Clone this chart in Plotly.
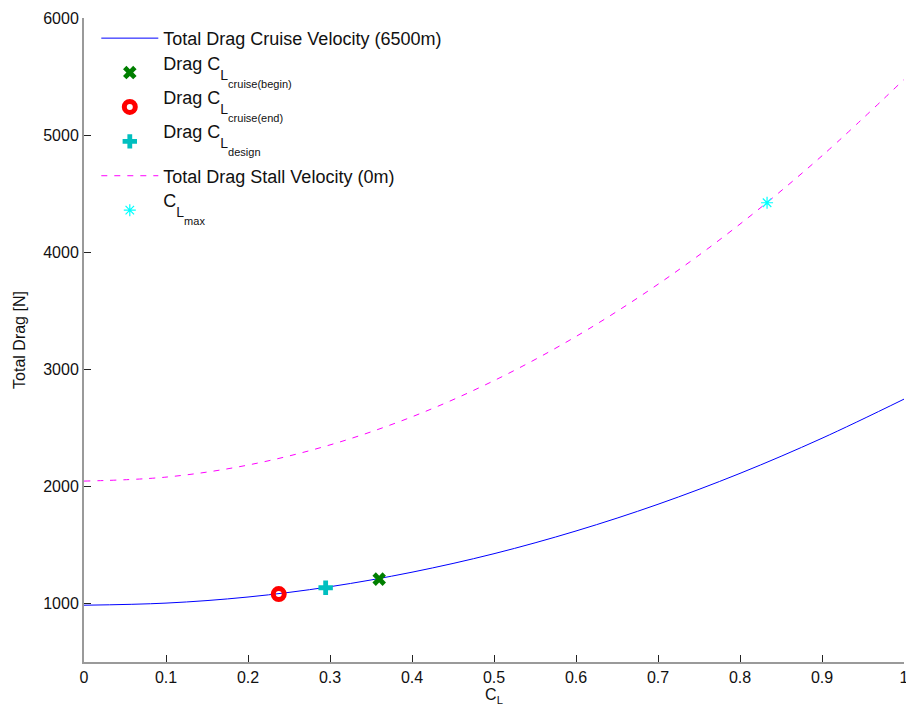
import plotly.graph_objects as go

# Lift coefficient samples and total drag [N]
cl = [0.0, 0.1, 0.2, 0.3, 0.4, 0.5, 0.6, 0.7, 0.8, 0.9, 1.0]
drag_cruise = [985, 1003, 1055, 1143, 1267, 1425, 1619, 1847, 2111, 2411, 2745]
drag_stall = [2045, 2079, 2182, 2354, 2594, 2903, 3280, 3726, 4240, 4823, 5475]

# Operating points
cl_cruise_begin, d_cruise_begin = 0.360, 1208
cl_cruise_end, d_cruise_end = 0.2375, 1080
cl_design, d_design = 0.2947, 1134
cl_max, d_cl_max = 0.833, 4422

x_ticks = [0, 0.1, 0.2, 0.3, 0.4, 0.5, 0.6, 0.7, 0.8, 0.9, 1]
y_ticks = [1000, 2000, 3000, 4000, 5000, 6000]

font_family = "Liberation Sans, Arial, sans-serif"


def sub_label(main, first, second):
    """Legend text with a subscript and a second, lower subscript level."""
    return (f"<span style='baseline-shift:10px'>{main}</span>"
            f"<span style='font-size:14px'>{first}</span>"
            f"<span style='font-size:11px;baseline-shift:-8px'>{second}</span>")


fig = go.Figure()
fig.add_trace(go.Scatter(
    x=cl, y=drag_cruise, mode="lines", line=dict(color="#0000ff", width=1, shape="spline"),
    name="Total Drag Cruise Velocity (6500m)", legendgroup="a"))
fig.add_trace(go.Scatter(
    x=[cl_cruise_begin], y=[d_cruise_begin], mode="markers",
    marker=dict(symbol="x", size=12, color="#007f00", line=dict(width=0)),
    name=sub_label("Drag C", "L", "cruise(begin)"), legendgroup="b"))
fig.add_trace(go.Scatter(
    x=[cl_cruise_end], y=[d_cruise_end], mode="markers",
    marker=dict(symbol="circle-open", size=11, color="#ff0000", line=dict(width=5, color="#ff0000")),
    name=sub_label("Drag C", "L", "cruise(end)"), legendgroup="c"))
fig.add_trace(go.Scatter(
    x=[cl_design], y=[d_design], mode="markers",
    marker=dict(symbol="cross", size=12, color="#00bfbf", line=dict(width=0)),
    name=sub_label("Drag C", "L", "design"), legendgroup="d"))
fig.add_trace(go.Scatter(
    x=cl, y=drag_stall, mode="lines",
    line=dict(color="#ff00ff", width=1, dash="6px,7px", shape="spline"),
    name="Total Drag Stall Velocity (0m)", legendgroup="e"))
fig.add_trace(go.Scatter(
    x=[cl_max], y=[d_cl_max], mode="markers",
    marker=dict(symbol="asterisk-open", size=10, color="#00ffff", line=dict(width=1.2, color="#00ffff")),
    name=sub_label("C", "L", "max"), legendgroup="f"))

axis_common = dict(
    showline=True, linecolor="#9a9a9a", linewidth=2, mirror=False,
    ticks="inside", ticklen=7, tickcolor="#222222", tickwidth=1,
    showgrid=False, zeroline=False, automargin=False,
    tickfont=dict(family=font_family, size=16, color="#111111"),
)

fig.update_layout(
    width=906, height=717,
    margin=dict(l=84, r=2, t=18, b=55),
    paper_bgcolor="white", plot_bgcolor="white",
    font=dict(family=font_family, size=16, color="#111111"),
    xaxis=dict(range=[0, 1], tickvals=x_ticks, ticktext=[f"{v:g}" for v in x_ticks],
               ticklabeloverflow="allow",
               title=dict(text="C<sub>L</sub>", font=dict(size=16), standoff=4), **axis_common),
    yaxis=dict(range=[500, 6000], tickvals=y_ticks,
               title=dict(text="Total Drag [N]", font=dict(size=16), standoff=14), **axis_common),
    legend=dict(x=0.015, y=0.997, xanchor="left", yanchor="top",
                bgcolor="rgba(0,0,0,0)", borderwidth=0, itemwidth=57,
                font=dict(family=font_family, size=18, color="#111111"),
                tracegroupgap=8),
    showlegend=True,
)

fig.write_html("out.html")
